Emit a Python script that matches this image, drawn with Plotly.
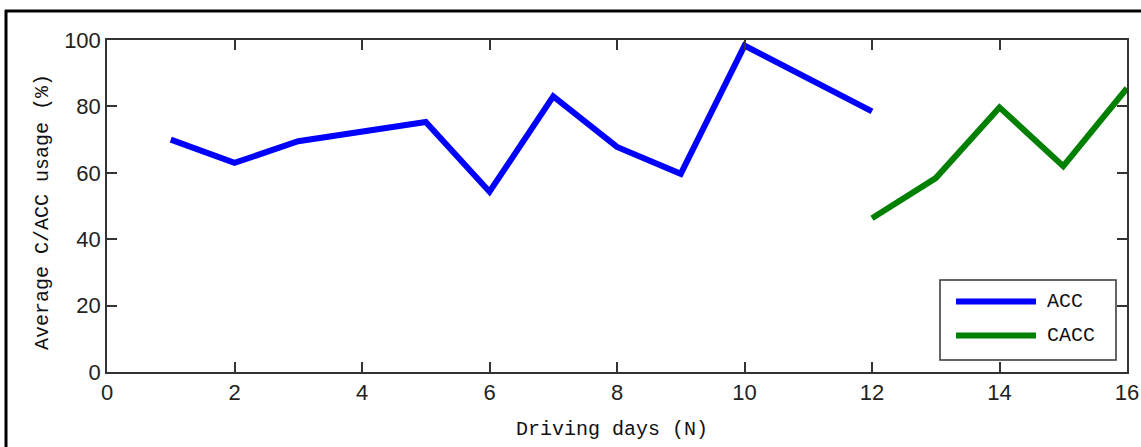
import plotly.graph_objects as go

# Daily average usage of adaptive / cooperative cruise control
acc_days = [1, 2, 3, 4, 5, 6, 7, 8, 9, 10, 11, 12]
acc_usage = [70, 63, 69.5, 72.5, 75.3, 54.3, 83, 67.8, 59.7, 98.3, 88.4, 78.5]

cacc_days = [12, 13, 14, 15, 16]
cacc_usage = [46.3, 58.4, 79.7, 62, 85.5]

x_ticks = [0, 2, 4, 6, 8, 10, 12, 14, 16]
y_ticks = [0, 20, 40, 60, 80, 100]

BLUE = "#0000ff"
GREEN = "#008000"
AXIS = "#333333"
TICK_FONT = dict(family="Liberation Sans, Arial, sans-serif", size=22, color="#222222")
LABEL_FONT = dict(family="Liberation Mono, Courier New, monospace", size=20, color="#111111")

W, H = 1141, 447
L, R, T, B = 107, 14, 40, 75
pw, ph = W - L - R, H - T - B


def px(xp):
    return (xp - L) / pw


def py(yp):
    return (H - B - yp) / ph


fig = go.Figure()
fig.add_trace(go.Scatter(x=acc_days, y=acc_usage, mode="lines", name="ACC",
                         line=dict(color=BLUE, width=6), showlegend=False))
fig.add_trace(go.Scatter(x=cacc_days, y=cacc_usage, mode="lines", name="CACC",
                         line=dict(color=GREEN, width=6), showlegend=False))

axis_common = dict(
    showgrid=False, zeroline=False, showline=True, linecolor=AXIS, linewidth=1.5,
    mirror="ticks", ticks="inside", ticklen=10, tickwidth=1.5, tickcolor=AXIS,
    tickfont=TICK_FONT, automargin=False,
)
fig.update_xaxes(range=[0, 16], tickvals=x_ticks, ticktext=[str(v) for v in x_ticks],
                 **axis_common)
fig.update_yaxes(range=[0, 100], tickvals=y_ticks, ticktext=[str(v) for v in y_ticks],
                 **axis_common)

shapes = []
# outer frame (left and top edges)
shapes.append(dict(type="line", xref="paper", yref="paper", x0=px(6), x1=px(6),
                   y0=py(10), y1=py(H), line=dict(color="black", width=3)))
shapes.append(dict(type="line", xref="paper", yref="paper", x0=px(5), x1=px(W),
                   y0=py(11), y1=py(11), line=dict(color="black", width=3)))

annotations = [
    # axis titles
    dict(xref="paper", yref="paper", x=px(612), y=py(429), text="Driving days (N)",
         showarrow=False, xanchor="center", yanchor="middle", font=LABEL_FONT),
    dict(xref="paper", yref="paper", x=px(42), y=py(212), text="Average C/ACC usage (%)",
         showarrow=False, xanchor="center", yanchor="middle", textangle=-90, font=LABEL_FONT),
]

# legend box
shapes.append(dict(type="rect", xref="paper", yref="paper", x0=px(940), x1=px(1116),
                   y0=py(360), y1=py(280), line=dict(color=AXIS, width=1.5),
                   fillcolor="white", layer="above"))
legend_items = [("ACC", BLUE, 301.5), ("CACC", GREEN, 335.5)]
for name, color, yy in legend_items:
    shapes.append(dict(type="line", xref="paper", yref="paper", x0=px(956), x1=px(1036),
                       y0=py(yy), y1=py(yy), line=dict(color=color, width=6), layer="above"))
    annotations.append(dict(xref="paper", yref="paper", x=px(1045), y=py(yy),
                            text=name, showarrow=False, xanchor="left", yanchor="middle",
                            font=LABEL_FONT))

fig.update_layout(
    width=W, height=H,
    margin=dict(l=L, r=R, t=T, b=B, autoexpand=False),
    paper_bgcolor="white", plot_bgcolor="white",
    shapes=shapes, annotations=annotations,
    showlegend=False,
)

fig.write_html("out.html", config={"responsive": False},
               post_script="document.body.style.margin='0';document.body.style.overflow='hidden';")
